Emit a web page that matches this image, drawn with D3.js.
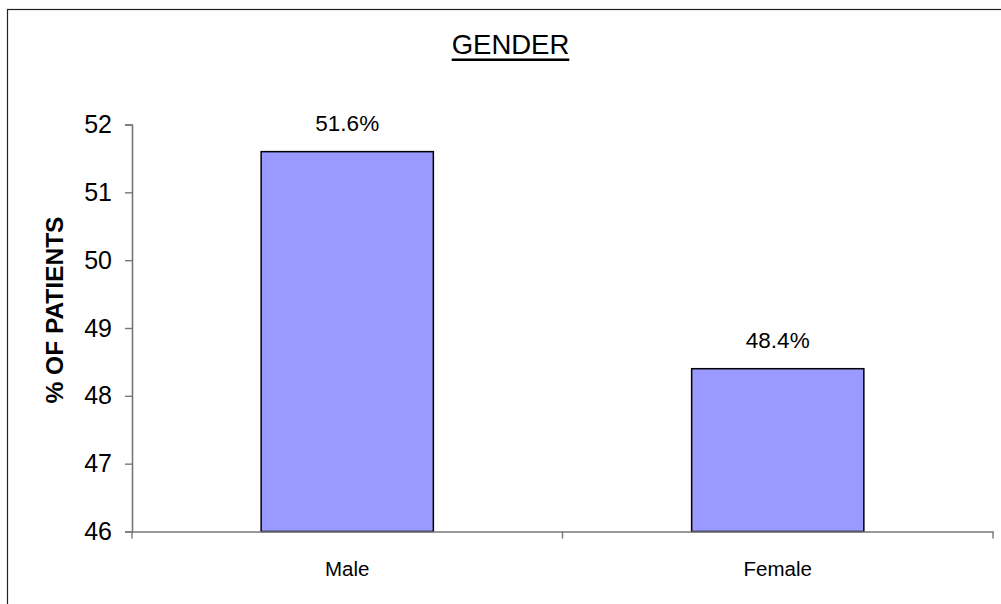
<!DOCTYPE html>
<html>
<head>
<meta charset="utf-8">
<script src="https://cdn.jsdelivr.net/npm/d3@7"></script>
<style>
  html, body { margin: 0; padding: 0; background: #fff; }
  svg { display: block; font-family: Arial, "Liberation Sans", sans-serif; }
</style>
</head>
<body>
<svg id="chart" width="1001" height="604"></svg>
<script>
// Patient share by gender
const categories = ["Male", "Female"];
const values = [51.6, 48.4];
const valueLabels = ["51.6%", "48.4%"];
const yTicks = [46, 47, 48, 49, 50, 51, 52];

const svg = d3.select("#chart");

const plotLeft = 132, plotRight = 993, plotTop = 124.5, plotBottom = 531.5;

const x = d3.scaleBand()
  .domain(categories)
  .range([plotLeft, plotRight])
  .paddingInner(0.6)
  .paddingOuter(0.3);

const xCat = d3.scaleBand().domain(categories).range([plotLeft, plotRight]).padding(0);

const y = d3.scaleLinear().domain([46, 52]).range([plotBottom, plotTop]);

// outer frame
svg.append("rect")
  .attr("x", 7.5).attr("y", 9.5)
  .attr("width", 1010).attr("height", 620)
  .attr("fill", "none").attr("stroke", "#222").attr("stroke-width", 1.2);

// title
const title = svg.append("text")
  .attr("x", 510.5).attr("y", 53.5)
  .attr("text-anchor", "middle")
  .attr("font-size", 27.5)
  .attr("fill", "#000")
  .text("GENDER");
const tb = title.node().getBBox();
svg.append("line")
  .attr("x1", tb.x).attr("x2", tb.x + tb.width)
  .attr("y1", 59.8).attr("y2", 59.8)
  .attr("stroke", "#000").attr("stroke-width", 2.4);

// bars
svg.selectAll("rect.bar")
  .data(categories)
  .join("rect")
  .attr("class", "bar")
  .attr("x", d => x(d))
  .attr("width", x.bandwidth())
  .attr("y", (d, i) => y(values[i]))
  .attr("height", (d, i) => y(46) - y(values[i]))
  .attr("fill", "#9999FF")
  .attr("stroke", "#000")
  .attr("stroke-width", 1.5);

// value labels
svg.selectAll("text.val")
  .data(categories)
  .join("text")
  .attr("class", "val")
  .attr("x", d => x(d) + x.bandwidth() / 2)
  .attr("y", (d, i) => y(values[i]) - 20.5)
  .attr("text-anchor", "middle")
  .attr("font-size", 22.5)
  .attr("fill", "#000")
  .text((d, i) => valueLabels[i]);

// y axis
const yAxis = svg.append("g")
  .attr("transform", `translate(${plotLeft},0)`)
  .call(d3.axisLeft(y).tickValues(yTicks).tickSize(7).tickPadding(13).tickFormat(d3.format("d")));
yAxis.select(".domain").attr("stroke", "#777").attr("stroke-width", 1.6);
yAxis.selectAll(".tick line").attr("stroke", "#777").attr("stroke-width", 1.4);
yAxis.selectAll(".tick text")
  .attr("font-size", 25).attr("fill", "#000")
  .attr("font-family", "Arial, 'Liberation Sans', sans-serif");

// x axis
const xAxis = svg.append("g")
  .attr("transform", `translate(0,${plotBottom})`)
  .call(d3.axisBottom(xCat).tickSize(0).tickPadding(30));
xAxis.select(".domain").attr("stroke", "#777").attr("stroke-width", 1.6);
xAxis.selectAll(".tick text")
  .attr("font-size", 20.5).attr("fill", "#000")
  .attr("font-family", "Arial, 'Liberation Sans', sans-serif");

// x axis boundary ticks between categories
const bounds = [plotLeft].concat(categories.map(c => xCat(c) + xCat.bandwidth()));
svg.selectAll("line.xtick")
  .data(bounds)
  .join("line")
  .attr("class", "xtick")
  .attr("x1", d => d).attr("x2", d => d)
  .attr("y1", plotBottom).attr("y2", plotBottom + 7)
  .attr("stroke", "#777").attr("stroke-width", 1.4);

// y axis title
svg.append("text")
  .attr("transform", "translate(63,310) rotate(-90)")
  .attr("text-anchor", "middle")
  .attr("font-size", 24.5)
  .attr("font-weight", "bold")
  .attr("fill", "#000")
  .text("% OF PATIENTS");
</script>
</body>
</html>
